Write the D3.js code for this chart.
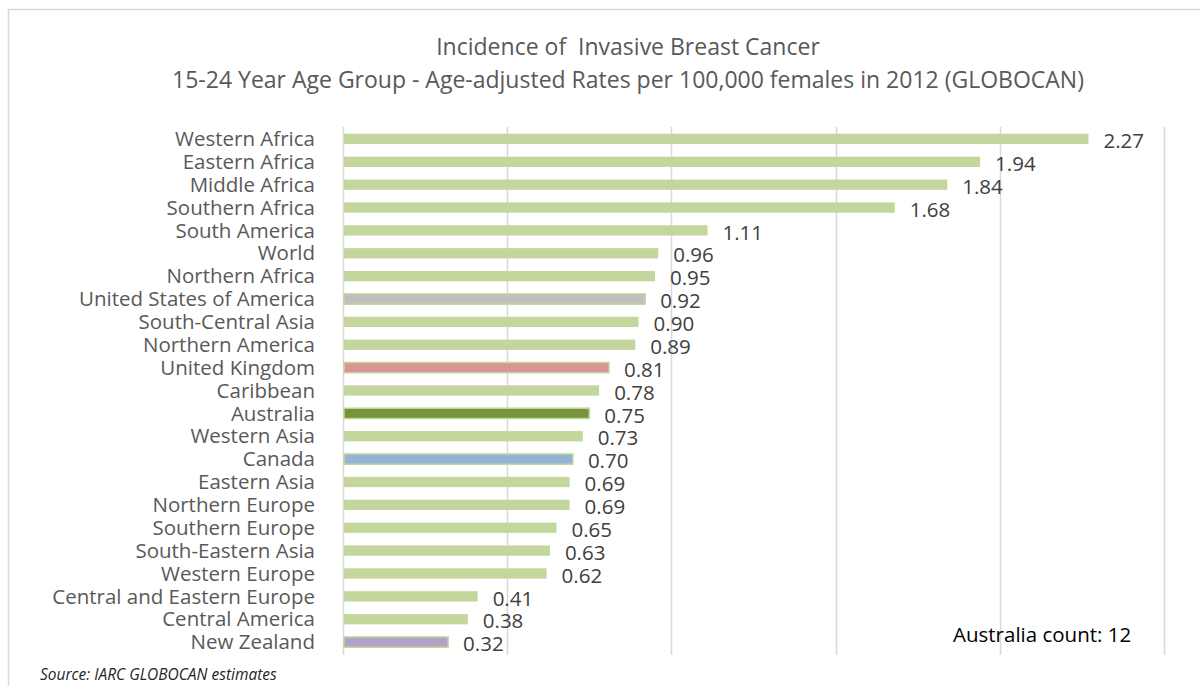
<!DOCTYPE html>
<html>
<head>
<meta charset="utf-8">
<script src="https://cdn.jsdelivr.net/npm/d3@7"></script>
<style>
	body { margin: 0; background: #fff; }
	text { font-family: "Open Sans", "Noto Sans", sans-serif; }
</style>
</head>
<body>
<div id="chart"></div>
<script>
// Data
var regions = ["Western Africa", "Eastern Africa", "Middle Africa", "Southern Africa", "South America",
	"World", "Northern Africa", "United States of America", "South-Central Asia", "Northern America",
	"United Kingdom", "Caribbean", "Australia", "Western Asia", "Canada", "Eastern Asia",
	"Northern Europe", "Southern Europe", "South-Eastern Asia", "Western Europe",
	"Central and Eastern Europe", "Central America", "New Zealand"];
var rates = [2.27, 1.94, 1.84, 1.68, 1.11, 0.96, 0.95, 0.92, 0.90, 0.89, 0.81, 0.78, 0.75,
	0.73, 0.70, 0.69, 0.69, 0.65, 0.63, 0.62, 0.41, 0.38, 0.32];
var xTicks = [0, 0.5, 1, 1.5, 2, 2.5];
var highlightNames = ["United States of America", "United Kingdom", "Australia", "Canada", "New Zealand"];
var highlightColours = ["#bfbfbf", "#d99594", "#77933c", "#95b3d7", "#b3a2c7"];
var titleLines = ["Incidence of  Invasive Breast Cancer",
	"15-24 Year Age Group - Age-adjusted Rates per 100,000 females in 2012 (GLOBOCAN)"];

var data = regions.map(function(r, i) { return { region: r, rate: rates[i] }; });

var W = 1200, H = 686;
var svg = d3.select("#chart").append("svg")
	.attr("width", W)
	.attr("height", H);

// Chart frame
svg.append("rect")
	.attr("x", 8.5).attr("y", 9.5)
	.attr("width", 1250).attr("height", 700)
	.attr("fill", "none")
	.attr("stroke", "#d9d9d9")
	.attr("stroke-width", 1.5);

// Title
svg.selectAll(".title")
	.data(titleLines)
	.enter().append("text")
	.attr("class", "title")
	.attr("x", 628)
	.attr("y", function(d, i) { return 47 + i * 33; })
	.attr("dy", "0.36em")
	.attr("text-anchor", "middle")
	.attr("font-size", 23)
	.attr("fill", "#595959")
	.style("white-space", "pre")
	.text(function(d) { return d; });

var x = d3.scaleLinear().domain([0, 2.5]).range([343, 1164]);
var y = d3.scaleBand().domain(regions).range([127.5, 653.5]).paddingInner(0.55).paddingOuter(0.275);

// Vertical gridlines
svg.append("g").selectAll("line")
	.data(xTicks)
	.enter().append("line")
	.attr("x1", function(d) { return Math.round(x(d)) + 0.5; })
	.attr("x2", function(d) { return Math.round(x(d)) + 0.5; })
	.attr("y1", 127)
	.attr("y2", 655)
	.attr("stroke", "#d9d9d9")
	.attr("stroke-width", 1.5);

// Bars
var colourOf = function(d) {
	var k = highlightNames.indexOf(d.region);
	return k < 0 ? "#c3d69b" : highlightColours[k];
};
svg.append("g").selectAll("rect")
	.data(data)
	.enter().append("rect")
	.attr("x", x(0) + 1)
	.attr("y", function(d) { return y(d.region); })
	.attr("width", function(d) { return x(d.rate) - x(0) - 1; })
	.attr("height", y.bandwidth())
	.attr("fill", colourOf)
	.attr("stroke", function(d) { return highlightNames.indexOf(d.region) < 0 ? "none" : "#c3d69b"; })
	.attr("stroke-width", 1.5);

// Category labels
svg.append("g").selectAll("text")
	.data(data)
	.enter().append("text")
	.attr("x", 315)
	.attr("y", function(d) { return y(d.region) + y.bandwidth() / 2; })
	.attr("dy", "0.35em")
	.attr("text-anchor", "end")
	.attr("font-size", 20.5)
	.attr("fill", "#595959")
	.text(function(d) { return d.region; });

// Value labels
svg.append("g").selectAll("text")
	.data(data)
	.enter().append("text")
	.attr("x", function(d) { return x(d.rate) + 15; })
	.attr("y", function(d) { return y(d.region) + y.bandwidth() / 2 + 2; })
	.attr("dy", "0.35em")
	.attr("font-size", 20.5)
	.attr("fill", "#404040")
	.text(function(d) { return d.rate.toFixed(2); });

// Annotation
svg.append("text")
	.attr("x", 953)
	.attr("y", 635)
	.attr("dy", "0.35em")
	.attr("font-size", 20.5)
	.attr("fill", "#000")
	.text("Australia count: 12");

// Source
svg.append("text")
	.attr("x", 40)
	.attr("y", 675)
	.attr("dy", "0.35em")
	.attr("font-size", 15.5)
	.attr("font-style", "italic")
	.attr("fill", "#262626")
	.text("Source: IARC GLOBOCAN estimates");
</script>
</body>
</html>
